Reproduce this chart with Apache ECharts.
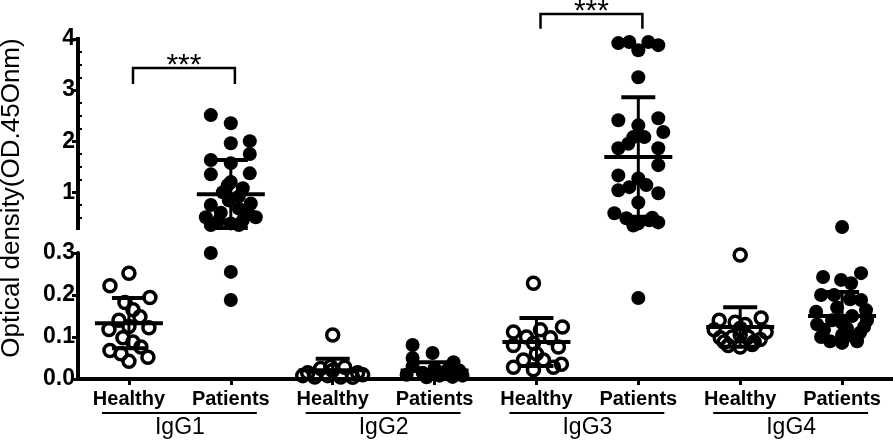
<!DOCTYPE html>
<html><head><meta charset="utf-8">
<script src="https://cdn.jsdelivr.net/npm/echarts@6/dist/echarts.min.js"></script>
<style>html,body{margin:0;padding:0;background:#fff}#c{width:893px;height:443px}</style>
</head><body><div id="c"></div>
<script>
// ---------- data ----------
const xCategories = ['Healthy','Patients','Healthy','Patients','Healthy','Patients','Healthy','Patients'];
const groupNames = ['IgG1','IgG2','IgG3','IgG4'];
const lowerTicks = [0, 0.1, 0.2, 0.3];
const upperTicks = [1, 2, 3, 4];
const upperMinorTicks = [0.5,0.75,1.25,1.5,1.75,2.25,2.5,2.75,3.25,3.5,3.75];
const breakValue = 0.3;

const igg1Healthy = [0.252,0.222,0.194,0.182,0.165,0.148,0.14,0.118,0.122,0.125,0.098,0.088,0.068,0.076,0.06,0.042,0.052];
const igg1HealthyJitter = [0,-19,21,-4,4,11,-10,-20,20,0,-6,4,-19,12,-8,0,19];
const igg1Patients = [2.51,2.35,1.96,2.0,1.75,1.63,1.57,1.35,1.37,1.2,1.14,1.08,1.0,0.92,0.75,0.84,0.78,0.68,0.6,0.58,0.51,0.45,0.39,0.45,0.51,0.36,0.36,0.30,0.255,0.188];
const igg1PatientsJitter = [-20,0,0,19,19,-20,0,-20,19,0,-3,12,-8,8,-20,-2,20,8,-10,18,-25,-12,0,12,25,-20,8,-20,0,0];
const igg2Healthy = [0.105,0.015,0.025,0.02,0.028,0.015,0.005,0.008,0.005,0.004,0.01,0.008,0.03];
const igg2HealthyJitter = [0,-25,-12,0,12,25,-18,-5,8,20,30,-30,-2];
const igg2Patients = [0.081,0.062,0.05,0.04,0.03,0.025,0.02,0.015,0.02,0.01,0.008,0.005,0.004,0.008,0.012];
const igg2PatientsJitter = [-22,-2,-22,19,-22,0,12,-12,25,-28,5,18,-8,28,0];
const igg3Healthy = [0.228,0.112,0.124,0.117,0.1,0.098,0.08,0.085,0.076,0.028,0.022,0.028,0.045,0.045,0.035,0.06];
const igg3HealthyJitter = [-3,-23,26,4,-10,14,-23,-3,22,-23,-3,17,-13,7,25,0];
const igg3Patients = [3.92,3.94,3.78,3.94,3.88,3.25,2.41,2.45,2.31,2.18,2.08,2.08,1.86,1.86,1.95,1.53,1.33,1.27,1.14,1.1,1.04,0.98,0.8,0.59,0.49,0.39,0.45,0.41,0.35,0.5,0.193];
const igg3PatientsJitter = [-20,-9,0,10,20,0,-20,20,0,25,-5,6,-20,20,-10,20,-20,0,8,-9,-20,20,0,-24,-12,0,11,20,-5,14,0];
const igg4Healthy = [0.295,0.14,0.145,0.117,0.112,0.088,0.088,0.076,0.1,0.1,0.12,0.135,0.13,0.098,0.094,0.08,0.082,0.105];
const igg4HealthyJitter = [0,-21,21,-26,26,-16,14,0,-8,8,0,-5,5,-20,20,-12,12,0];
const igg4Patients = [0.32,0.243,0.236,0.252,0.228,0.2,0.188,0.16,0.164,0.117,0.124,0.1,0.086,0.1,0.133,0.14,0.15,0.17,0.12,0.09,0.09,0.14,0.13,0.105,0.2,0.19,0.11];
const igg4PatientsJitter = [0,-19,-1,19,9,-21,19,-26,24,-18,22,-21,0,12,0,-10,10,-5,5,-12,15,25,-25,0,-8,8,18];

const means   = [0.133,0.96,0.021,0.02,0.088,1.69,0.124,0.15];
const sdUpper = [0.193,1.63,0.048,0.04,0.145,2.86,0.171,0.207];
const sdLower = [0.073,0.3,0,0,0.031,0.52,0.077,0.093];

const significance = [[0,1,'***'],[4,5,'***']];
const bracketBottom = [3.12, 4.2];
const bracketTop = [3.43, 4.49];

// ---------- build ----------
const allVals = [igg1Healthy,igg1Patients,igg2Healthy,igg2Patients,igg3Healthy,igg3Patients,igg4Healthy,igg4Patients];
const allJit = [igg1HealthyJitter,igg1PatientsJitter,igg2HealthyJitter,igg2PatientsJitter,igg3HealthyJitter,igg3PatientsJitter,igg4HealthyJitter,igg4PatientsJitter];
const PX_PER_CAT = 102;

function points(healthy, upper){
  const out = [];
  allVals.forEach((arr, ci) => {
    if ((ci % 2 === 0) !== healthy) return;
    arr.forEach((v, k) => {
      if ((v > breakValue) === upper) out.push([ci + allJit[ci][k] / PX_PER_CAT, v]);
    });
  });
  return out;
}
const errLowerData = [], errUpperData = [];
means.forEach((m, i) => {
  const row = [i, m, Math.max(sdLower[i], 0), sdUpper[i]];
  if (m > breakValue) errUpperData.push(row); else errLowerData.push(row);
});

function errRender(params, api){
  const i = api.value(0), m = api.value(1), lo = api.value(2), hi = api.value(3);
  const pm = api.coord([i, m]), ph = api.coord([i, hi]), pl = api.coord([i, lo]);
  const st = {stroke:'#000', lineWidth:4};
  return {type:'group', children:[
    {type:'line', shape:{x1:pm[0], y1:ph[1], x2:pm[0], y2:pl[1]}, style:{stroke:'#000', lineWidth:3}},
    {type:'line', shape:{x1:pm[0]-17, y1:ph[1], x2:pm[0]+17, y2:ph[1]}, style:st},
    {type:'line', shape:{x1:pm[0]-17, y1:pl[1], x2:pm[0]+17, y2:pl[1]}, style:st},
    {type:'line', shape:{x1:pm[0]-34, y1:pm[1], x2:pm[0]+34, y2:pm[1]}, style:st}
  ]};
}
function bracketRender(params, api){
  const a = api.value(0), b = api.value(1), yb = api.value(2), yt = api.value(3);
  const p1 = api.coord([a + 0.04, yb]), p2 = api.coord([a + 0.04, yt]);
  const p3 = api.coord([b + 0.04, yt]), p4 = api.coord([b + 0.04, yb]);
  return {type:'group', children:[
    {type:'polyline', shape:{points:[p1,p2,p3,p4]}, style:{stroke:'#000', lineWidth:2.5, fill:null}},
    {type:'text', x:(p2[0]+p3[0])/2, y:p2[1]-2, style:{text:significance[params.dataIndex][2], textAlign:'center', textVerticalAlign:'middle', font:'30px Arial, "Liberation Sans"', fill:'#000'}}
  ]};
}
function underlineRender(params, api){
  const g = api.value(0);
  const a = api.coord([2*g, 0]), b = api.coord([2*g+1, 0]);
  return {type:'line', shape:{x1:a[0]-27, y1:a[1]+34, x2:b[0]+26, y2:b[1]+34}, style:{stroke:'#000', lineWidth:2}};
}

const FONT = 'Arial, "Liberation Sans", sans-serif';
const openCircle = {color:'rgba(255,255,255,0)', borderColor:'#000', borderWidth:3.5, opacity:1};
const solidDot = {color:'#000', opacity:1};

const chart = echarts.init(document.getElementById('c'), null, {renderer:'canvas'});
chart.setOption({
  animation:false,
  backgroundColor:'#fff',
  grid:[
    {left:78, right:0, top:39, bottom:215},
    {left:78, right:0, top:253, bottom:64}
  ],
  xAxis:[
    {type:'value', gridIndex:0, min:-0.5, max:7.5, show:false},
    {type:'value', gridIndex:1, min:-0.5, max:7.5, show:false},
    {type:'category', gridIndex:1, data:xCategories, position:'bottom', boundaryGap:true,
      axisLine:{show:true, onZero:false, lineStyle:{color:'#000', width:4}},
      axisTick:{show:true, alignWithLabel:true, length:6, lineStyle:{color:'#000', width:3}},
      axisLabel:{color:'#000', fontFamily:FONT, fontWeight:'bold', fontSize:20, margin:10}},
    {type:'category', gridIndex:1, data:groupNames, position:'bottom', offset:31,
      axisLine:{show:false, onZero:false}, axisTick:{show:false},
      axisLabel:{color:'#000', fontFamily:FONT, fontSize:23, margin:6}}
  ],
  yAxis:[
    {type:'value', gridIndex:0, min:0.3, max:4, position:'left',
      axisLine:{show:true, onZero:false, lineStyle:{color:'#000', width:4, cap:'square'}},
      axisTick:{show:true, customValues:upperTicks, length:6, lineStyle:{color:'#000', width:3}},
      axisLabel:{customValues:upperTicks, color:'#000', fontFamily:FONT, fontWeight:'bold', fontSize:23, margin:3},
      splitLine:{show:false}},
    {type:'value', gridIndex:0, min:0.3, max:4, position:'left',
      axisLine:{show:false, onZero:false},
      axisTick:{show:true, inside:true, customValues:upperMinorTicks, length:4, lineStyle:{color:'#000', width:2}},
      axisLabel:{show:false}, splitLine:{show:false}},
    {type:'value', gridIndex:1, min:0, max:0.3, interval:0.1, position:'left',
      axisLine:{show:true, onZero:false, lineStyle:{color:'#000', width:4}},
      axisTick:{show:true, length:6, lineStyle:{color:'#000', width:3}},
      axisLabel:{color:'#000', fontFamily:FONT, fontWeight:'bold', fontSize:23, margin:3, formatter:v=>v.toFixed(1)},
      splitLine:{show:false}}
  ],
  series:[
    {type:'scatter', xAxisIndex:1, yAxisIndex:2, data:points(true,false), symbol:'circle', symbolSize:12, itemStyle:openCircle, clip:false},
    {type:'scatter', xAxisIndex:1, yAxisIndex:2, data:points(false,false), symbol:'circle', symbolSize:14, itemStyle:solidDot, clip:false},
    {type:'scatter', xAxisIndex:0, yAxisIndex:0, data:points(true,true), symbol:'circle', symbolSize:12, itemStyle:openCircle, clip:false},
    {type:'scatter', xAxisIndex:0, yAxisIndex:0, data:points(false,true), symbol:'circle', symbolSize:14, itemStyle:solidDot, clip:false},
    {type:'custom', xAxisIndex:1, yAxisIndex:2, data:errLowerData, renderItem:errRender, clip:false, z:5},
    {type:'custom', xAxisIndex:0, yAxisIndex:0, data:errUpperData, renderItem:errRender, clip:false, z:5},
    {type:'custom', xAxisIndex:0, yAxisIndex:0, data:significance.map((s,i)=>[s[0], s[1], bracketBottom[i], bracketTop[i]]), renderItem:bracketRender, clip:false},
    {type:'custom', xAxisIndex:1, yAxisIndex:2, data:groupNames.map((g,i)=>[i]), renderItem:underlineRender, clip:false}
  ],
  graphic:[
    {type:'text', x:12, y:198, rotation:Math.PI/2, style:{text:'Optical density(OD.45Onm)', textAlign:'center', textVerticalAlign:'middle', font:'26px ' + FONT, fill:'#000'}}
  ]
});
</script></body></html>
